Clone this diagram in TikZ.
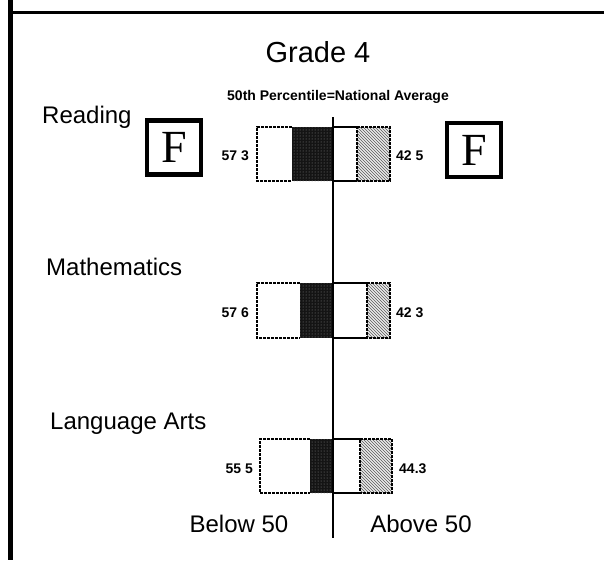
\documentclass[tikz,border=0pt]{standalone}
\usepackage{fontspec}
\setmainfont{Liberation Sans}
\newfontfamily\serifF{Liberation Serif}
\usetikzlibrary{patterns}
\tikzset{
  lbl/.style={font=\fontsize{24}{28}\selectfont, inner sep=0pt, anchor=base west},
  ttl/.style={font=\fontsize{29}{33}\selectfont, inner sep=0pt, anchor=base},
  num/.style={font=\fontsize{14}{16}\selectfont\bfseries, inner sep=0pt},
  grade/.style={draw, line width=4.5pt, minimum width=54pt, minimum height=54pt, inner sep=0pt,
     font=\serifF\fontsize{46}{46}\selectfont},
  outl/.style={line width=1.3pt, dash pattern=on 3pt off 1pt},
  solidl/.style={line width=1.3pt},
  darkfill/.style={fill=black!92},
  hatchfill/.style={pattern=north west lines, pattern color=black!65},
}
\begin{document}
\begin{tikzpicture}[x=1pt,y=-1pt]
\useasboundingbox (0,0) rectangle (604,565);
% frame
\fill[black] (8,0) rectangle (13,560);
\draw[line width=3pt] (8,12) -- (604,12);
% title
\node[ttl] (title) at (318,62) {Grade 4};
\node[num, anchor=base] (pct) at (338,100) {50th Percentile=National Average};
% subject labels
\node[lbl] (read) at (42,123) {Reading};
\node[lbl] (math) at (46,275) {Mathematics};
\node[lbl] (lang) at (50,429) {Language Arts};
% grade boxes
\node[grade] (fl) at (174,147.5) {F};
\node[grade] (fr) at (474,150) {F};
% bars: #1 top, #2 bottom, #3 left, #4 dark start, #5 hatch start, #6 right
\newcommand\gbar[6]{%
  \fill[darkfill] (#4,#1) rectangle (333,#2);
  \fill[pattern=dots, pattern color=black!45] (#4,#1) rectangle (333,#2);
  \fill[black!8] (#5,#1) rectangle (#6,#2);
  \fill[hatchfill] (#5,#1) rectangle (#6,#2);
  \draw[outl] (#4,#1) -- (#3,#1) -- (#3,#2) -- (#4,#2);
  \draw[solidl] (333,#1) -- (#5,#1) (333,#2) -- (#5,#2);
  \draw[outl] (#5,#1) -- (#6,#1) -- (#6,#2) -- (#5,#2) -- cycle;
}
\gbar{127}{181}{257}{292}{357}{390}
\gbar{283}{338}{257}{300}{367}{390}
\gbar{439}{493}{260}{310}{360}{392}
% numbers
\node[num, anchor=base east] (r1) at (249,160) {57 3};
\node[num, anchor=base west] (r2) at (396,160) {42 5};
\node[num, anchor=base east] (m1) at (249,317) {57 6};
\node[num, anchor=base west] (m2) at (396,317) {42 3};
\node[num, anchor=base east] (l1) at (253,473) {55 5};
\node[num, anchor=base west] (l2) at (399,473) {44.3};
% axis
\coordinate (axt) at (333,117);
\coordinate (axb) at (333,538);
\draw[line width=2pt] (axt) -- (axb);
% bottom labels
\node[lbl, anchor=base] (below) at (239,532) {Below 50};
\node[lbl, anchor=base] (above) at (421,532) {Above 50};
\end{tikzpicture}
\end{document}
